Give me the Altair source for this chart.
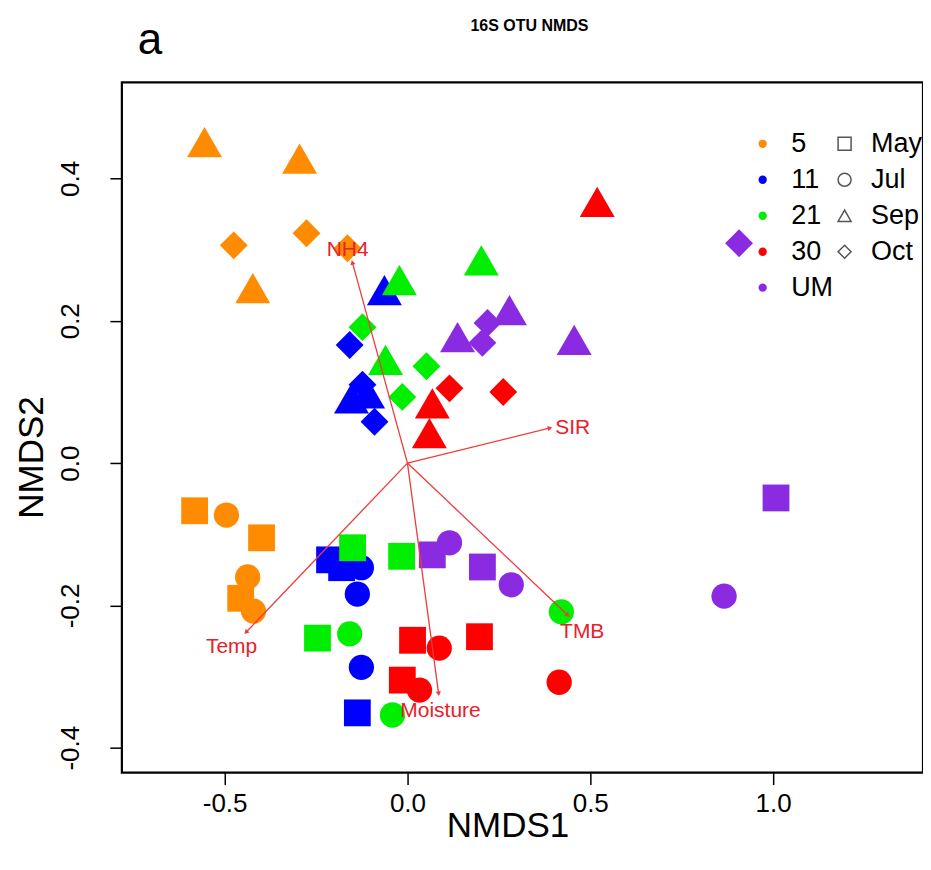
import math
import altair as alt
import pandas as pd

# ---------------- data ----------------
depth_order = ["5", "11", "21", "30", "UM"]
depth_colors = ["#FF8C00", "#0000FF", "#00EE00", "#FF0000", "#8A2BE2"]
month_order = ["May", "Jul", "Sep", "Oct"]
month_shapes = ["square", "circle", "triangle-up", "diamond"]
month_sizes = [720, 640, 1225, 780]

pt_depth = (["5"] * 12 + ["11"] * 12 + ["21"] * 12 + ["30"] * 11 + ["UM"] * 12)
pt_month = (
    ["May"] * 3 + ["Jul"] * 3 + ["Sep"] * 3 + ["Oct"] * 3 +
    ["May"] * 3 + ["Jul"] * 3 + ["Sep"] * 3 + ["Oct"] * 3 +
    ["May"] * 3 + ["Jul"] * 3 + ["Sep"] * 3 + ["Oct"] * 3 +
    ["May"] * 3 + ["Jul"] * 3 + ["Sep"] * 3 + ["Oct"] * 2 +
    ["May"] * 3 + ["Jul"] * 3 + ["Sep"] * 3 + ["Oct"] * 3
)
pt_x = [
    -0.582, -0.399, -0.456, -0.495, -0.437, -0.421, -0.555, -0.295, -0.423, -0.475, -0.276, -0.164,
    -0.213, -0.180, -0.137, -0.126, -0.137, -0.126, -0.063, -0.153, -0.109, -0.158, -0.123, -0.090,
    -0.150, -0.016, -0.246, -0.158, -0.041, 0.421, -0.022, 0.202, -0.060, -0.123, 0.052, -0.014,
    0.014, -0.014, 0.197, 0.087, 0.033, 0.415, 0.519, 0.068, 0.060, 0.115, 0.262,
    1.008, 0.068, 0.205, 0.115, 0.284, 0.866, 0.279, 0.456, 0.137, 0.907, 0.219, 0.205,
]
pt_y = [
    -0.067, -0.105, -0.190, -0.073, -0.160, -0.208, 0.451, 0.428, 0.246, 0.306, 0.323, 0.302,
    -0.136, -0.147, -0.351, -0.147, -0.184, -0.287, 0.243, 0.091, 0.098, 0.166, 0.110, 0.058,
    -0.119, -0.131, -0.246, -0.240, -0.354, -0.209, 0.257, 0.285, 0.145, 0.191, 0.136, 0.093,
    -0.249, -0.305, -0.244, -0.260, -0.319, -0.308, 0.367, 0.084, 0.042, 0.105, 0.100,
    -0.049, -0.129, -0.146, -0.112, -0.171, -0.187, 0.215, 0.173, 0.177, 0.309, 0.197, 0.169,
]

vec_names = ["NH4", "SIR", "Temp", "Moisture", "TMB"]
vec_x = [-0.150, 0.388, -0.440, 0.085, 0.437]
vec_y = [0.281, 0.049, -0.237, -0.323, -0.213]

x_ticks = [-0.5, 0.0, 0.5, 1.0]
y_ticks = [-0.4, -0.2, 0.0, 0.2, 0.4]
x_domain = [-0.781, 1.410]
y_domain = [-0.435, 0.535]

chart_title = "16S OTU NMDS"
panel_tag = "a"

# ---------------- layout / style ----------------
W, H = 802, 691
FONT = "Liberation Sans, Arial, sans-serif"
ARROW_COL = "#EE3B3B"
LABEL_COL = "#E8202A"
MINUS_FIX = "replace(datum.label, '\u2212', '-')"

size_map = dict(zip(month_order, month_sizes))
pts = pd.DataFrame({"depth": pt_depth, "month": pt_month, "x": pt_x, "y": pt_y})
pts["idx"] = range(len(pts))
pts["sz"] = pts["month"].map(size_map)

xs = alt.Scale(domain=x_domain, nice=False, zero=False)
ys = alt.Scale(domain=y_domain, nice=False, zero=False)

xax = alt.Axis(values=x_ticks, format=".1f", labelExpr=MINUS_FIX, title="NMDS1",
               grid=False, domain=False,
               tickSize=12, tickWidth=1.5, tickColor="#000", labelFont=FONT,
               labelFontSize=26, labelColor="#000", labelPadding=6,
               titleFont=FONT, titleFontSize=35, titleFontWeight="normal",
               titleColor="#000", titlePadding=-8, titleX=386)
yax = alt.Axis(values=y_ticks, format=".1f", labelExpr=MINUS_FIX, title="NMDS2",
               grid=False, domain=False,
               tickSize=12, tickWidth=1.5, tickColor="#000", labelFont=FONT,
               labelFontSize=26, labelColor="#000", labelAngle=270, labelAlign="center",
               labelBaseline="bottom", labelPadding=26,
               titleFont=FONT, titleFontSize=35, titleFontWeight="normal",
               titleColor="#000", titlePadding=8, titleY=375)

points = alt.Chart(pts).mark_point(filled=True, opacity=1, strokeWidth=0).encode(
    x=alt.X("x:Q", scale=xs, axis=xax),
    y=alt.Y("y:Q", scale=ys, axis=yax),
    color=alt.Color("depth:N", scale=alt.Scale(domain=depth_order, range=depth_colors),
                    legend=alt.Legend(title=None, orient="none", legendX=628, legendY=48,
                                      symbolType="circle", symbolSize=70,
                                      symbolStrokeWidth=0, symbolOpacity=1,
                                      labelFont=FONT, labelFontSize=27, labelColor="#000",
                                      labelOffset=15, rowPadding=8, padding=0)),
    shape=alt.Shape("month:N", scale=alt.Scale(domain=month_order, range=month_shapes),
                    legend=alt.Legend(title=None, orient="none", legendX=710, legendY=48,
                                      symbolSize=170, symbolFillColor="transparent",
                                      symbolStrokeColor="#555", symbolStrokeWidth=1.5,
                                      labelFont=FONT, labelFontSize=27, labelColor="#000",
                                      labelOffset=13, rowPadding=8, padding=0)),
    size=alt.Size("sz:Q", scale=None, legend=None),
    order=alt.Order("idx:Q"),
)

vec = pd.DataFrame({"name": vec_names, "vx": vec_x, "vy": vec_y})
vec["ox"] = 0.0
vec["oy"] = 0.0
sx = W / (x_domain[1] - x_domain[0])
sy = H / (y_domain[1] - y_domain[0])
vec["ang"] = [(math.degrees(math.atan2(a * sx, b * sy)) + 360) % 360 for a, b in zip(vec_x, vec_y)]

rules = alt.Chart(vec).mark_rule(color=ARROW_COL, strokeWidth=1.3).encode(
    x="ox:Q", y="oy:Q", x2="vx:Q", y2="vy:Q")
heads = alt.Chart(vec).mark_point(shape="triangle", filled=True, color=ARROW_COL,
                                  opacity=1, size=28).encode(
    x="vx:Q", y="vy:Q", angle=alt.Angle("ang:Q", scale=None))

label_style = {
    "NH4": dict(dx=-5, dy=-13, align="center"),
    "SIR": dict(dx=6, dy=0, align="left"),
    "Temp": dict(dx=-15, dy=15, align="center"),
    "Moisture": dict(dx=2, dy=18, align="center"),
    "TMB": dict(dx=15, dy=17, align="center"),
}
labels = []
for nm in vec_names:
    st = label_style[nm]
    labels.append(
        alt.Chart(vec).transform_filter(alt.datum.name == nm).mark_text(
            font=FONT, fontSize=21, color=LABEL_COL, baseline="middle", **st
        ).encode(x="vx:Q", y="vy:Q", text="name:N"))

panel = alt.Chart(pd.DataFrame({"t": [panel_tag]})).mark_text(
    font=FONT, fontSize=44, color="#000", align="left", baseline="alphabetic").encode(
    x=alt.value(16), y=alt.value(-28), text="t:N")

title_mark = alt.Chart(pd.DataFrame({"t": [chart_title]})).mark_text(
    font=FONT, fontSize=16, fontWeight="bold", color="#000", align="center",
    baseline="middle").encode(x=alt.value(408), y=alt.value(-56), text="t:N")

chart = alt.layer(points, rules, heads, *labels, panel, title_mark).properties(
    width=W, height=H,
    autosize=alt.AutoSizeParams(type="none"),
    padding={"left": 114, "top": 74, "right": 0, "bottom": 89},
).configure_view(stroke="#000", strokeWidth=2.2)

chart.save("out.html", embed_options={"renderer": "svg", "actions": False})
